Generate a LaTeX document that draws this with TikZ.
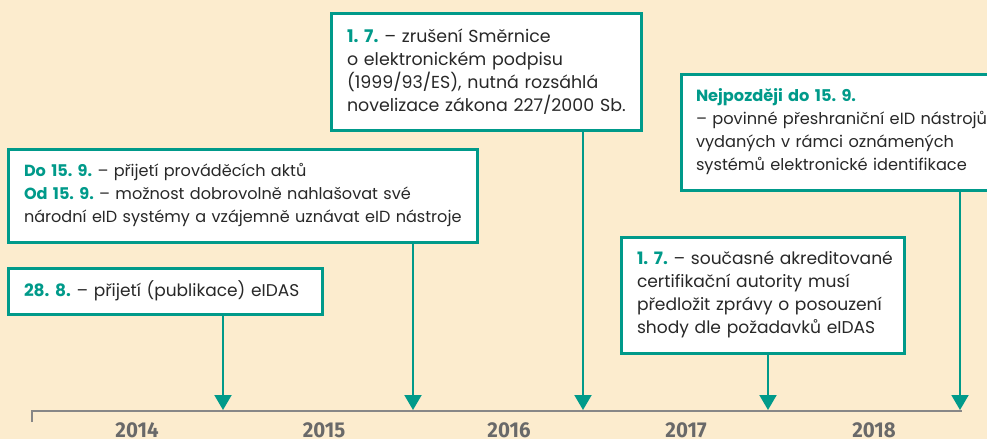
\documentclass[tikz,border=0pt]{standalone}
\usepackage{fontspec}
\setmainfont{Poppins}
\newfontfamily\yearfont[FakeStretch=0.95]{Fira Sans}
\usetikzlibrary{arrows.meta}
\definecolor{bgc}{RGB}{252,236,206}
\definecolor{tealc}{RGB}{0,154,138}
\definecolor{txtc}{RGB}{40,40,40}
\definecolor{axisc}{RGB}{135,135,135}
\definecolor{yrc}{RGB}{105,105,105}
\newcommand\hlt[1]{\textcolor{tealc}{\bfseries #1}}
\newcommand\bxline[1]{\mbox{#1}}
\frenchspacing
\tikzset{
  box/.style={draw=tealc, line width=3pt, fill=white, anchor=north west,
    align=left, inner xsep=16pt, inner ysep=0pt, outer sep=0pt, text=txtc,
    font=\fontsize{17}{23}\selectfont},
  conn/.style={draw=tealc, line width=2pt, -{Triangle[width=17pt,length=15pt]}},
  axisline/.style={draw=axisc, line width=2pt},
  yearlbl/.style={text=yrc, anchor=base, inner sep=0pt,
    font=\yearfont\bfseries\fontsize{21.5}{21.5}\selectfont},
}
\begin{document}
\begin{tikzpicture}[x=1pt,y=-1pt]
\useasboundingbox (0,0) rectangle (987,439);
\clip (0,0) rectangle (987,439);
\fill[bgc] (0,0) rectangle (987,439);

% boxes
\node[box, minimum width=314pt, minimum height=46pt, text width=282pt] (bA) at (8,268)
  {\bxline{\hlt{28. 8.} – přijetí (publikace) eIDAS}};
\node[box, minimum width=469pt, minimum height=93pt, text width=437pt,
      font=\fontsize{16.1}{23}\selectfont] (bB) at (8,149)
  {\bxline{\hlt{Do 15. 9.} – přijetí prováděcích aktů}\\
   \bxline{\hlt{Od 15. 9.} – možnost dobrovolně nahlašovat své}\\
   \bxline{národní eID systémy a vzájemně uznávat eID nástroje}};
\node[box, minimum width=310pt, minimum height=117pt, text width=278pt,
      font=\fontsize{17.4}{23}\selectfont] (bC) at (331,13)
  {\bxline{\hlt{1. 7.} – zrušení Směrnice}\\
   \bxline{o elektronickém podpisu}\\
   \bxline{(1999/93/ES), nutná rozsáhlá}\\
   \bxline{novelizace zákona 227/2000 Sb.}};
\node[box, minimum width=360pt, minimum height=116pt, text width=330pt, inner xsep=15pt,
      font=\fontsize{16.2}{23}\selectfont] (bD) at (681,74)
  {\bxline{\hlt{Nejpozději do 15. 9.}}\\
   \bxline{– povinné přeshraniční eID nástrojů}\\
   \bxline{vydaných v rámci oznámených}\\
   \bxline{systémů elektronické identifikace}};
\node[box, minimum width=283pt, minimum height=116pt, text width=251pt,
      font=\fontsize{17.1}{23}\selectfont] (bE) at (621,237)
  {\bxline{\hlt{1. 7.} – současné akreditované}\\
   \bxline{certifikační autority musí}\\
   \bxline{předložit zprávy o posouzení}\\
   \bxline{shody dle požadavků eIDAS}};

% axis
\coordinate (axL) at (32,411);
\coordinate (axT) at (32,422);
\coordinate (axR) at (962,411);
\draw[axisline] (axT) -- (axL) -- (axR);

% arrow tips
\coordinate (tA) at (223,410);
\coordinate (tB) at (413,410);
\coordinate (tC) at (583,410);
\coordinate (tE) at (768,410);
\coordinate (tD) at (960,410);

\draw[conn] (bA.south -| tA) -- (tA);
\draw[conn] (bB.south -| tB) -- (tB);
\draw[conn] (bC.south -| tC) -- (tC);
\draw[conn] (bE.south -| tE) -- (tE);
\draw[conn] (bD.south -| tD) -- (tD);

% years
\node[yearlbl] (y14) at (137,437) {2014};
\node[yearlbl] (y15) at (324,437) {2015};
\node[yearlbl] (y16) at (509,437) {2016};
\node[yearlbl] (y17) at (686,437) {2017};
\node[yearlbl] (y18) at (874,437) {2018};
\end{tikzpicture}
\end{document}
